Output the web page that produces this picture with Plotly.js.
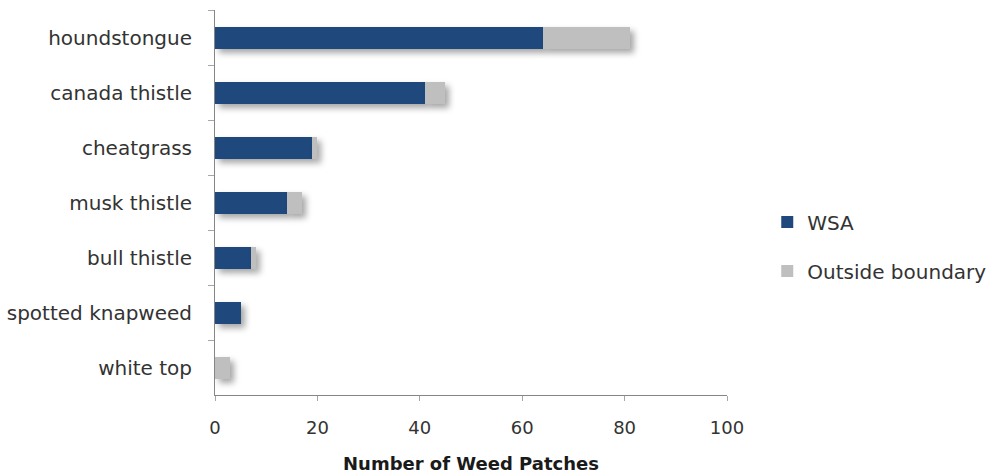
<!DOCTYPE html>
<html>
<head>
<meta charset="utf-8">
<script src="https://cdn.plot.ly/plotly-3.0.1.min.js"></script>
<style>
  html, body { margin: 0; padding: 0; background: #fff; }
  #chart { width: 990px; height: 474px; }
  /* soft drop shadow under the bars */
  #chart .barlayer .point path { filter: drop-shadow(4px 4px 3px rgba(0,0,0,0.35)); }
</style>
</head>
<body>
<div id="chart"></div>
<script>
// Weed species, listed top to bottom
const species = ["houndstongue", "canada thistle", "cheatgrass", "musk thistle",
                 "bull thistle", "spotted knapweed", "white top"];
// Patches inside the WSA
const wsaPatches = [64, 41, 19, 14, 7, 5, 0];
// Patches outside the boundary
const outsidePatches = [17, 4, 1, 3, 1, 0, 3];
const xTicks = [0, 20, 40, 60, 80, 100];

const fontFamily = "DejaVu Sans, Liberation Sans, sans-serif";
const labelFont = { family: fontFamily, size: 20, color: "#333333" };

const traces = [
  {
    type: "bar", orientation: "h", name: "WSA",
    y: species, x: wsaPatches,
    marker: { color: "#1F497D" },
    legendgroup: "a", hoverinfo: "x+y"
  },
  {
    type: "bar", orientation: "h", name: "Outside boundary",
    y: species, x: outsidePatches,
    marker: { color: "#BFBFBF" },
    legendgroup: "b", hoverinfo: "x+y"
  }
];

const layout = {
  width: 990, height: 474,
  margin: { l: 215, r: 263, t: 10, b: 79 },
  barmode: "stack",
  bargap: 0.6,
  paper_bgcolor: "#fff", plot_bgcolor: "#fff",
  font: labelFont,
  xaxis: {
    range: [0, 100],
    tickvals: xTicks,
    ticktext: xTicks.map(String),
    showgrid: false, zeroline: false,
    showline: true, linecolor: "#868686", linewidth: 1,
    ticks: "outside", ticklen: 5, tickcolor: "#a6a6a6",
    ticklabelstandoff: 11,
    tickfont: { family: fontFamily, size: 18, color: "#333333" },
    title: { text: "Number of Weed Patches", standoff: 21,
             font: { family: fontFamily, size: 18, color: "#1a1a1a", weight: "bold" } }
  },
  yaxis: {
    type: "category",
    autorange: "reversed",
    showgrid: false, zeroline: false,
    showline: true, linecolor: "#868686", linewidth: 1,
    ticks: "outside", ticklen: 6, tickcolor: "#a6a6a6",
    tickson: "boundaries",
    ticklabelstandoff: 18,
    tickfont: labelFont
  },
  showlegend: true,
  legend: {
    xref: "container", yref: "container",
    x: 0.775, xanchor: "left",
    y: 0.48, yanchor: "middle",
    traceorder: "grouped",
    tracegroupgap: 20,
    font: labelFont,
    itemwidth: 30
  }
};

Plotly.newPlot("chart", traces, layout, { displayModeBar: false, staticPlot: true });
</script>
</body>
</html>
